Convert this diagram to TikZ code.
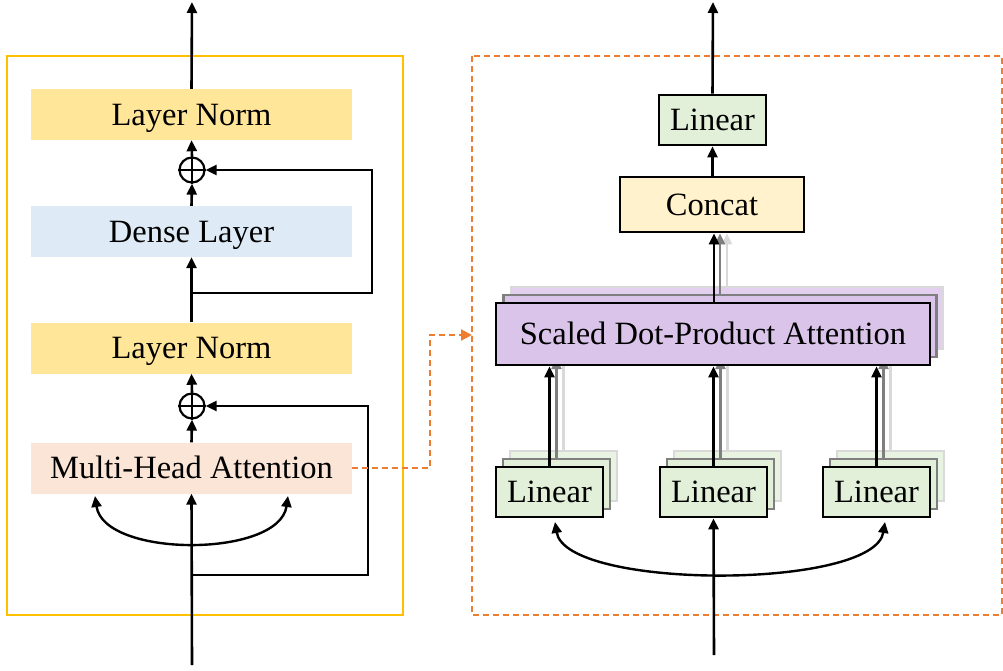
\documentclass[tikz,border=0pt]{standalone}
\usepackage{fontspec}
\setmainfont{Liberation Serif}
\usetikzlibrary{arrows.meta}
\definecolor{normfill}{HTML}{FFE699}
\definecolor{densefill}{HTML}{DEEBF7}
\definecolor{mhafill}{HTML}{FBE5D6}
\definecolor{linfill}{HTML}{E2F0D9}
\definecolor{catfill}{HTML}{FFF2CC}
\definecolor{sdpafill}{HTML}{DBC4EA}
\definecolor{frameyellow}{HTML}{FFC000}
\definecolor{frameorange}{HTML}{ED7D31}
\definecolor{shadowgray}{HTML}{7F7F7F}
\definecolor{shadowlight}{HTML}{D9D9D9}
\tikzset{
  x=1pt, y=-1pt,
  lbl/.style={font=\fontsize{32.5}{36}\selectfont, text height=21.5pt, text depth=0pt},
  flatbox/.style={lbl, rectangle, inner sep=0pt, minimum width=321pt, minimum height=51pt},
  framedbox/.style={lbl, rectangle, draw=black, line width=2.7pt, inner sep=0pt, minimum height=50pt},
  backbox/.style={framedbox, draw=shadowgray, line width=2.4pt},
  farbox/.style={framedbox, draw=shadowlight, line width=2.4pt},
  addnode/.style={circle, draw=black, line width=2.2pt, minimum size=25pt, inner sep=0pt},
  flow/.style={line width=2.6pt, -{Triangle[length=11pt,width=10pt]}},
  grayflow/.style={flow, draw=shadowgray},
  lightflow/.style={flow, draw=shadowlight},
  dashlink/.style={draw=frameorange, line width=2.2pt, dash pattern=on 6pt off 4pt,
    -{Triangle[length=11pt,width=11pt]}},
}
\begin{document}
\begin{tikzpicture}
\useasboundingbox (0,0) rectangle (1003,670);

% ---------------- encoder block ----------------
\draw[frameyellow, line width=2.2pt] (7,56) rectangle (403,615);

\node[flatbox, fill=normfill]  (ln1)   at (191.5,114.5) {Layer Norm};
\node[addnode]                 (add1)  at (192,170) {};
\node[flatbox, fill=densefill] (dense) at (191.5,231.5) {Dense Layer};
\node[flatbox, fill=normfill]  (ln2)   at (191.5,348) {Layer Norm};
\node[addnode]                 (add2)  at (192,406) {};
\node[flatbox, fill=mhafill]   (mha)   at (191.5,468) {Multi-Head Attention};

\foreach \a in {add1,add2}{
  \draw[line width=2.2pt] (\a.north) -- (\a.south) (\a.west) -- (\a.east);
}

\coordinate (encout) at (192,2);
\coordinate (encin)  at (192,665);
\coordinate (br1)    at (192,293);
\coordinate (br2)    at (192,575);
\coordinate (qL)     at (95,496);
\coordinate (qR)     at (288,496);

\draw[flow] (ln1.north) -- (encout);
\draw[flow] (add1.north) -- (ln1.south);
\draw[flow] (dense.north) -- (add1.south);
\draw[flow] (ln2.north) -- (dense.south);
\draw[flow] (br1) -| (372,200) |- (add1.east);
\draw[flow] (add2.north) -- (ln2.south);
\draw[flow] (mha.north) -- (add2.south);
\draw[flow] (br2) -| (368,450) |- (add2.east);
\draw[flow] (encin) -- (mha.south);
\draw[line width=2.4pt, {Triangle[length=11pt,width=10pt]}-{Triangle[length=11pt,width=10pt]}]
  (qL) .. controls (104,558) and (279,558) .. (qR);

% ---------------- multi-head attention detail ----------------
\draw[frameorange, line width=2.2pt, dash pattern=on 6pt off 4pt] (472,56) rectangle (1002,615);
\coordinate (zoomin) at (472,335);
\draw[dashlink] (mha.east) -| (430,400) |- (zoomin);

% stacked heads, back to front
\node[farbox, fill=sdpafill!80, minimum width=432pt, minimum height=62pt] (sdpaC) at (727,318) {};
\foreach \n/\x in {1/563.5,2/727.5,3/890.5}{
  \node[farbox, fill=linfill!80, minimum width=107pt] (linC\n) at (\x,476) {};
  \draw[lightflow] (linC\n.north) -- (linC\n.north |- sdpaC.south);
}
\node[backbox, fill=sdpafill, minimum width=433pt, minimum height=62pt] (sdpaB) at (720,326) {};
\foreach \n/\x in {1/556.5,2/720.5,3/883.5}{
  \node[backbox, fill=linfill, minimum width=107pt] (linB\n) at (\x,484) {};
  \draw[grayflow] (linB\n.north) -- (linB\n.north |- sdpaB.south);
}
\node[framedbox, fill=sdpafill, minimum width=434pt, minimum height=62pt] (sdpa) at (713,334)
  {Scaled Dot-Product Attention};
\foreach \n/\x in {1/549.5,2/713.5,3/876.5}{
  \node[framedbox, fill=linfill, minimum width=107pt] (lin\n) at (\x,492) {Linear};
  \draw[flow] (lin\n.north) -- (lin\n.north |- sdpa.south);
}

\node[framedbox, fill=catfill, minimum width=184pt, minimum height=55pt] (concat) at (712,204.5) {Concat};
\node[framedbox, fill=linfill, minimum width=107pt] (linout) at (712.5,120) {Linear};

\draw[lightflow] (sdpaC.north -| 727,0) -- (727,0 |- concat.south);
\draw[grayflow]  (sdpaB.north -| 720,0) -- (720,0 |- concat.south);
\draw[flow]      (sdpa.north -| 714,0) -- (714,0 |- concat.south);
\draw[flow] (concat.north -| linout) -- (linout.south);

\coordinate (headout) at (713,2);
\draw[flow] (linout.north) -- (headout);

\coordinate (headin) at (714,655);
\coordinate (hL) at (555,522);
\coordinate (hR) at (885,522);
\draw[flow] (headin) -- (lin2.south);
\draw[line width=2.4pt, {Triangle[length=11pt,width=10pt]}-{Triangle[length=11pt,width=10pt]}]
  (hL) .. controls (566,590) and (874,590) .. (hR);
\end{tikzpicture}
\end{document}
